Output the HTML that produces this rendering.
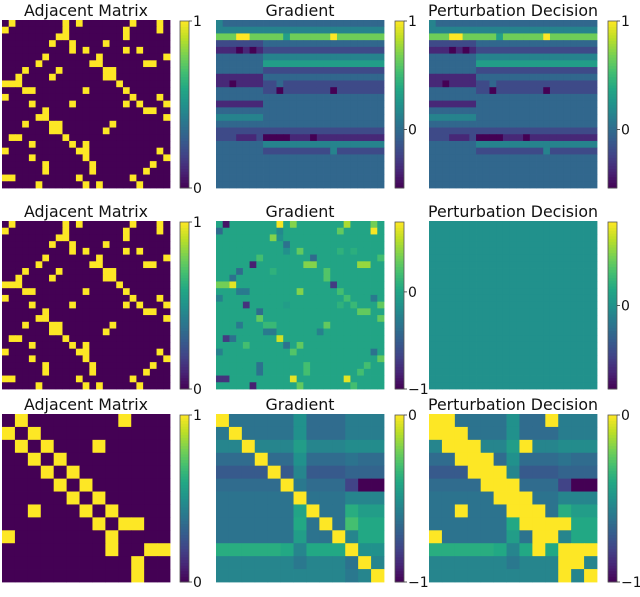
<!DOCTYPE html>
<html><head><meta charset="utf-8"><style>
html,body{margin:0;padding:0;background:#fff;}
svg{display:block;font-family:"DejaVu Sans","Liberation Sans",sans-serif;}
</style></head><body>
<svg id="fig" width="640" height="597" viewBox="0 0 640 597" xmlns="http://www.w3.org/2000/svg"></svg>
<script>
// ---------- DATA ----------
const adj1Rows = [
 [1,9,11,19,23],[0,9,18,23],[8,9,18],[7,10,15],[10,12,18,20],
 [6,14,24],[5,13,14,21,22],[3,8,15,16],[2,7,15,16],[0,1,2,17],
 [3,4,12,18],[0,19,23],[4,10,18,20,24],[6,21,22],[5,6,24],
 [3,7,8,16],[7,8,15],[1,2,9],[4,10,12],[0,11,12,23],
 [4,12,24],[6,13,22],[6,13,21],[0,1,11,19],[5,12,14,20]
];
const grad1Rows = [
 "4333333333333333333333333","4444444444444444444444444","7779977777577777797777777",
 "2222222333333333333333333","1110101222222222222222222","3333333444444444444444444",
 "3333333555555555555555555","3333333222222222222222222","1111111333333333333333333",
 "1101111223222222222222222","3333333220222222202222222","3333333333333333333333333",
 "1111111333333333333333333","3333333333333333333333333","4444444333333333333333333",
 "3333333333333333333333333","2222222222222222222222222","2221112000011101111111111",
 "3333333444444444444444444","3333333222222222242222222","3333333333333333333333333",
 "3333333333333333333333333","3333333333333333333333333","3333333333333333333333333",
 "3333333333333333333333333"
];
const grad1Min = -0.54, grad1Max = 1;
const grad2Entries = [
 [0,1,-0.9],[0,9,0.7],[0,11,0.4],[0,19,0.5],[0,23,0.35],
 [1,0,-0.4],[1,9,-0.2],[1,18,0.3],[1,23,0.7],
 [2,8,0.4],[2,9,-0.15],[3,10,-0.35],[4,10,-0.15],[4,12,0.3],[4,18,0.1],[4,20,0.08],
 [5,6,0.2],[5,14,-0.4],[5,24,0.2],[6,5,-0.85],[6,13,0.4],[6,14,0.4],[6,21,0.45],[6,22,0.45],
 [7,3,-0.4],[7,8,0.1],[7,16,0.25],[8,2,-0.35],[8,16,0.25],
 [9,0,0.35],[9,1,0.35],[9,2,0.65],[9,17,-0.7],
 [10,3,-0.3],[10,4,-0.3],[10,12,0.4],[10,18,0.2],
 [11,0,-0.25],[11,19,0.2],[11,23,-0.3],
 [12,4,-0.75],[12,10,-0.05],[12,18,0.1],[12,20,0.15],[12,24,0.3],
 [13,6,-0.4],[13,21,0.3],[13,22,0.3],[14,6,0.3],[14,24,0.3],
 [15,3,-0.3],[15,7,0.15],[15,8,0.15],[15,16,0.3],
 [16,7,-0.3],[16,8,-0.3],[16,15,-0.25],
 [17,1,-0.7],[17,2,-0.35],[17,9,0.6],
 [18,4,0.2],[18,10,-0.35],[18,12,0.3],
 [19,0,-0.25],[19,11,0.25],[19,23,-0.35],
 [20,24,0.3],[21,6,-0.35],[21,13,0.2],[21,22,0.2],
 [22,6,-0.35],[22,13,0.2],[22,21,0.2],
 [23,0,-0.75],[23,1,-0.75],[23,11,0.65],[23,19,0.65],
 [24,5,-0.85],[24,12,0.3],[24,20,0.2]
];
const grad2Min = -1, grad2Max = 0.72;
const pert2Value = 0, pert2Min = -1, pert2Max = 1;
const adj3Rows = [
 [1,9],[0,2],[1,3,7],[2,4],[3,5],[4,6],[5,7],[2,6,8],[7,9,10],[0,8],[8,11,12],[10],[10]
];
const grad3Rows = [
 [0,-.62,-.62,-.62,-.62,-.62,-.5,-.65,-.65,-.65,-.58,-.58,-.58],
 [-.6,0,-.62,-.62,-.62,-.62,-.5,-.65,-.65,-.65,-.58,-.58,-.58],
 [-.55,-.55,0,-.55,-.55,-.55,-.45,-.55,-.55,-.55,-.52,-.52,-.52],
 [-.65,-.65,-.65,0,-.65,-.65,-.5,-.65,-.65,-.65,-.62,-.65,-.65],
 [-.72,-.72,-.72,-.72,0,-.72,-.55,-.72,-.72,-.72,-.68,-.68,-.68],
 [-.65,-.65,-.65,-.65,-.65,0,-.6,-.65,-.65,-.65,-.8,-1,-1],
 [-.62,-.62,-.62,-.62,-.62,-.62,0,-.62,-.62,-.62,-.55,-.55,-.55],
 [-.62,-.62,-.62,-.62,-.62,-.62,-.42,0,-.62,-.62,-.38,-.45,-.45],
 [-.62,-.62,-.62,-.62,-.62,-.62,-.4,-.62,0,-.62,-.3,-.4,-.4],
 [-.62,-.62,-.62,-.62,-.62,-.62,-.45,-.62,-.62,0,-.55,-.4,-.4],
 [-.38,-.38,-.38,-.38,-.38,-.4,-.55,-.4,-.4,-.4,0,-.5,-.5],
 [-.55,-.55,-.55,-.55,-.55,-.55,-.6,-.55,-.55,-.55,-.62,0,-.55],
 [-.55,-.55,-.55,-.55,-.55,-.55,-.55,-.55,-.55,-.55,-.6,-.55,0]
];
const titles = ["Adjacent Matrix","Gradient","Perturbation Decision"];
const titleWidths = [124,69,170];

// ---------- RENDER ----------
const stops=["#440154","#482475","#414487","#355f8d","#2a788e","#21918c","#22a884","#44bf70","#7ad151","#bddf26","#fde725"];
function hex(h){return [1,3,5].map(i=>parseInt(h.substr(i,2),16));}
function viridis(t){t=Math.max(0,Math.min(1,t));const f=t*10,i=Math.min(9,Math.floor(f)),u=f-i;
 const a=hex(stops[i]),b=hex(stops[i+1]);return "rgb("+a.map((v,k)=>Math.round(v+(b[k]-v)*u)).join(",")+")";}
const NS="http://www.w3.org/2000/svg";
const svg=document.getElementById("fig");
function mk(tag,attrs,parent){const e=document.createElementNS(NS,tag);for(const k in attrs)e.setAttribute(k,attrs[k]);(parent||svg).appendChild(e);return e;}

const colX=[2,216,429], cbX=[180,395,608], rowY=[20,221,414], S=168, CBW=9;

function drawPanel(ci,ri,mat,vmin,vmax,name){
 const g=mk("g",{});
 
 
 const n=mat.length, c=S/n, x0=colX[ci], y0=rowY[ri];
 const xs=i=>x0+i*c, ys=j=>y0+j*c;
 for(let r=0;r<n;r++)for(let k=0;k<n;k++){
  const rc=mk("rect",{x:xs(k).toFixed(2),y:ys(r).toFixed(2),width:(c+0.4).toFixed(2),height:(c+0.4).toFixed(2),fill:viridis((mat[r][k]-vmin)/(vmax-vmin))},g);
  
  
 }
 const t=mk("text",{x:x0+S/2,y:y0-4,"text-anchor":"middle","font-size":"16",fill:"#111",textLength:titleWidths[ci],lengthAdjust:"spacingAndGlyphs"},g);
 t.textContent=titles[ci];
 
 
}
function drawColorbar(ci,ri,vmin,vmax,ticks){
 const g=mk("g",{});
 
 
 const x=cbX[ci], y0=rowY[ri]+1, h=S-1;
 const N=60;
 for(let i=0;i<N;i++){mk("rect",{x:x,y:(y0+h-(i+1)*h/N).toFixed(2),width:CBW,height:(h/N+0.5).toFixed(2),fill:viridis((i+0.5)/N)},g);}
 mk("rect",{x:x,y:y0,width:CBW,height:h,fill:"none",stroke:"#555","stroke-width":"0.8"},g);
 const yv=v=>y0+h-(v-vmin)/(vmax-vmin)*h;
 ticks.forEach(v=>{
  const y=yv(v);
  mk("line",{x1:x+CBW,x2:x+CBW+3,y1:y,y2:y,stroke:"#333","stroke-width":"0.8"},g);
  const t=mk("text",{x:x+CBW+4,y:y+5,"font-size":"14",fill:"#111"},g);
  t.textContent=(v<0?"\u2212"+(-v):String(v));
  
  
 });
}
function adjMatrix(rows){const n=rows.length;const m=[];for(let r=0;r<n;r++){m.push(new Array(n).fill(0));rows[r].forEach(k=>m[r][k]=1);}return m;}

const A1=adjMatrix(adj1Rows);
const G1=grad1Rows.map(s=>s.split("").map(d=>grad1Min+(+d/9)*(grad1Max-grad1Min)));
drawPanel(0,0,A1,0,1,"adjacency-heatmap-1"); drawColorbar(0,0,0,1,[0,1]);
drawPanel(1,0,G1,grad1Min,grad1Max,"gradient-heatmap-1"); drawColorbar(1,0,grad1Min,grad1Max,[0,1]);
drawPanel(2,0,G1,grad1Min,grad1Max,"perturbation-heatmap-1"); drawColorbar(2,0,grad1Min,grad1Max,[0,1]);
const G2=A1.map(r=>r.map(()=>0)); grad2Entries.forEach(([r,k,v])=>G2[r][k]=v);
const P2=A1.map(r=>r.map(()=>pert2Value));
drawPanel(0,1,A1,0,1,"adjacency-heatmap-2"); drawColorbar(0,1,0,1,[0,1]);
drawPanel(1,1,G2,grad2Min,grad2Max,"gradient-heatmap-2"); drawColorbar(1,1,grad2Min,grad2Max,[-1,0]);
drawPanel(2,1,P2,pert2Min,pert2Max,"perturbation-heatmap-2"); drawColorbar(2,1,pert2Min,pert2Max,[0]);
const A3=adjMatrix(adj3Rows);
const P3=grad3Rows.map((row,r)=>row.map((v,k)=>(A3[r][k]||r===k)?0:v));
drawPanel(0,2,A3,0,1,"adjacency-heatmap-3"); drawColorbar(0,2,0,1,[0,1]);
drawPanel(1,2,grad3Rows,-1,0,"gradient-heatmap-3"); drawColorbar(1,2,-1,0,[-1,0]);
drawPanel(2,2,P3,-1,0,"perturbation-heatmap-3"); drawColorbar(2,2,-1,0,[-1,0]);
</script>
</body></html>
